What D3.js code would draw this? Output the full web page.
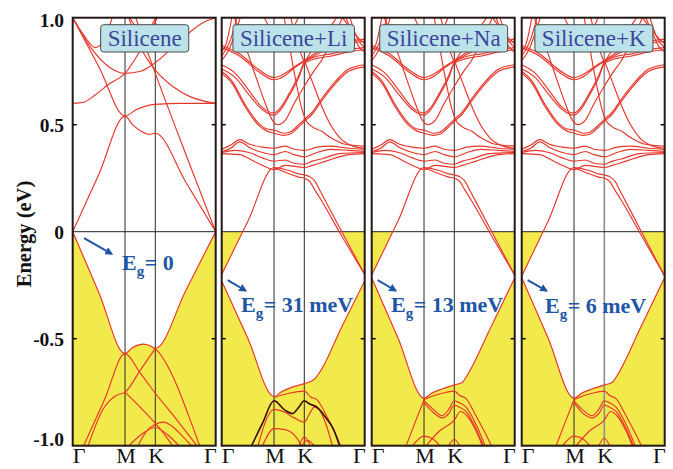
<!DOCTYPE html>
<html><head><meta charset="utf-8">
<script src="https://cdn.jsdelivr.net/npm/d3@7"></script>
<style>body{margin:0;background:#fff}svg{display:block}</style>
</head><body><svg id="chart" width="673" height="469"></svg>
<script>
// ---------- DATA ----------
const kPoints = [0, 0.577, 0.911, 1.577];
const kLabels = ["Γ", "M", "K", "Γ"];
const yTicks = [1.0, 0.5, 0, -0.5, -1.0];
const yTickLabels = ["1.0", "0.5", "0", "-0.5", "-1.0"];
const panelTitles = ["Silicene", "Silicene+Li", "Silicene+Na", "Silicene+K"];
const gapValues = ["0", "31 meV", "13 meV", "6 meV"];
const arrowStart = [[0.125, -0.03], [0.066, -0.226], [0.066, -0.226], [0.066, -0.226]];
const arrowEnd = [[0.43, -0.104], [0.265, -0.276], [0.265, -0.276], [0.275, -0.276]];
const gapLabelAt = [[0.545, -0.179], [0.213, -0.374], [0.213, -0.374], [0.257, -0.38]];

// Silicene (k, E) bands
const siliceneVBTop = [[0,0],[0.29,-0.286],[0.577,-0.57],[0.65,-0.545],[0.72,-0.53],[0.78,-0.525],[0.85,-0.532],[0.911,-0.545],[1.25,-0.272],[1.577,0]];
const siliceneCBBottom = [[0,0],[0.29,0.27],[0.577,0.54],[0.66,0.50],[0.75,0.47],[0.84,0.455],[0.911,0.46],[1.25,0.23],[1.577,0]];
const siliceneBands = [
  [[0.12,-1.0],[0.35,-0.785],[0.577,-0.57],[0.744,-0.66],[0.911,-0.755],[1.15,-0.88],[1.37,-1.0]],
  [[0.911,-0.545],[0.97,-0.575],[1.05,-0.63],[1.15,-0.72],[1.27,-0.85],[1.40,-1.0]],
  [[0.17,-1.0],[0.334,-0.83],[0.48,-0.765],[0.577,-0.75],[0.744,-0.648],[0.911,-0.545]],
  [[0.577,-0.75],[0.744,-0.82],[0.911,-0.895],[1.0,-0.94],[1.1,-1.0]],
  [[0.72,-1.0],[0.82,-0.93],[0.911,-0.9],[1.0,-0.89],[1.1,-0.91],[1.22,-0.96],[1.31,-1.0]],
  [[0.62,-1.0],[0.75,-0.95],[0.911,-0.915],[1.05,-0.95],[1.17,-1.0]],
  [[0.68,1.02],[0.80,0.87],[0.911,0.74],[1.24,0.37],[1.577,0]],
  [[0,1.0],[0.29,0.77],[0.577,0.54],[0.70,0.57],[0.911,0.595],[1.2,0.6],[1.577,0.6]],
  [[0,0.6],[0.12,0.605],[0.25,0.64],[0.4,0.69],[0.577,0.74],[0.75,0.85],[0.88,0.95],[0.95,1.02]],
  [[0.6,1.02],[0.75,0.86],[0.911,0.755],[1.1,0.68],[1.3,0.63],[1.45,0.61],[1.577,0.6]],
  [[0,1.0],[0.2,0.86],[0.4,0.77],[0.577,0.74],[0.75,0.75],[0.911,0.79],[1.2,0.9],[1.45,0.98],[1.577,1.0]],
  [[0.6,1.02],[0.72,0.95],[0.8,0.94],[0.88,0.97],[0.93,1.02]],
  [[0,1.0],[0.12,0.92],[0.25,0.86],[0.35,0.9],[0.45,1.02]]
];

// Bands above the gap, shared look for Li / Na / K
const alkaliUpperBands = [
  [[0,0.385],[0.1,0.405],[0.2,0.43],[0.3,0.41],[0.45,0.395],[0.577,0.39],[0.7,0.40],[0.8,0.385],[0.911,0.38],[1.05,0.395],[1.2,0.40],[1.4,0.39],[1.577,0.385]],
  [[0,0.375],[0.1,0.39],[0.2,0.42],[0.3,0.395],[0.45,0.37],[0.577,0.36],[0.7,0.375],[0.8,0.36],[0.911,0.35],[1.05,0.37],[1.2,0.385],[1.4,0.38],[1.577,0.375]],
  [[0,0.37],[0.15,0.38],[0.3,0.37],[0.45,0.345],[0.577,0.33],[0.7,0.335],[0.8,0.32],[0.911,0.315],[1.0,0.33],[1.1,0.34],[1.3,0.365],[1.577,0.37]],
  [[0,0.365],[0.2,0.36],[0.35,0.33],[0.5,0.30],[0.577,0.29],[0.7,0.31],[0.911,0.30],[1.0,0.31],[1.15,0.33],[1.4,0.36],[1.577,0.365]],
  [[0.911,0.80],[1.0,0.70],[1.1,0.59],[1.2,0.5],[1.3,0.44],[1.45,0.40],[1.577,0.39]],
  [[0,0.78],[0.15,0.74],[0.3,0.66],[0.45,0.58],[0.577,0.555],[0.65,0.58],[0.75,0.65],[0.85,0.73],[0.911,0.79],[1.05,0.82],[1.2,0.83],[1.4,0.85],[1.577,0.86]],
  [[0,0.76],[0.15,0.72],[0.3,0.64],[0.45,0.57],[0.577,0.545],[0.65,0.57],[0.75,0.64],[0.85,0.72],[0.911,0.785],[1.05,0.81],[1.2,0.82],[1.4,0.84],[1.577,0.85]],
  [[0,0.75],[0.12,0.70],[0.25,0.60],[0.4,0.51],[0.5,0.48],[0.577,0.475],[0.68,0.46],[0.75,0.465],[0.85,0.50],[0.911,0.525],[1.0,0.56],[1.1,0.62],[1.25,0.70],[1.4,0.76],[1.577,0.78]],
  [[0,0.74],[0.12,0.69],[0.25,0.59],[0.4,0.50],[0.5,0.47],[0.577,0.46],[0.68,0.45],[0.75,0.455],[0.85,0.49],[0.911,0.515],[1.0,0.55],[1.1,0.61],[1.25,0.69],[1.4,0.75],[1.577,0.77]],
  [[0,0.87],[0.2,0.83],[0.4,0.76],[0.577,0.72],[0.7,0.74],[0.8,0.77],[0.911,0.80],[1.1,0.85],[1.3,0.88],[1.577,0.9]],
  [[0,0.86],[0.2,0.82],[0.4,0.75],[0.577,0.71],[0.7,0.73],[0.8,0.765],[0.911,0.795],[1.1,0.84],[1.3,0.87],[1.577,0.89]],
  [[0.68,1.02],[0.75,0.86],[0.82,0.70],[0.88,0.58],[0.93,0.52],[1.0,0.49],[1.1,0.47],[1.2,0.44],[1.35,0.41],[1.577,0.40]],
  [[0.12,1.02],[0.25,0.88],[0.38,0.72],[0.48,0.6],[0.56,0.52],[0.62,0.50],[0.7,0.52],[0.8,0.60],[0.911,0.68],[1.0,0.74],[1.1,0.80],[1.2,0.88],[1.3,0.97],[1.35,1.02]],
  [[0.911,0.79],[1.0,0.85],[1.15,0.93],[1.3,1.02]],
  [[0.75,1.02],[0.85,0.86],[0.911,0.79]],
  [[0,0.80],[0.08,0.85],[0.15,0.93],[0.22,1.02]],
  [[0,0.82],[0.1,0.9],[0.18,1.02]],
  [[0,0.84],[0.05,0.88],[0.12,1.02]],
  [[1.35,1.02],[1.45,0.92],[1.52,0.86],[1.577,0.84]],
  [[1.4,1.02],[1.5,0.9],[1.577,0.86]],
  [[1.3,1.02],[1.42,0.95],[1.52,0.9],[1.577,0.88]],
  [[0.45,1.02],[0.577,0.93],[0.7,0.92],[0.8,0.96],[0.86,1.02]]
];

// Silicene+Li
const liCBBottom = [[0,-0.20],[0.29,0.05],[0.577,0.30],[0.66,0.295],[0.75,0.285],[0.85,0.27],[0.911,0.265],[0.98,0.255],[1.03,0.235],[1.08,0.195],[1.33,-0.005],[1.577,-0.20]];
const liVBTop = [[0,-0.23],[0.29,-0.5],[0.577,-0.77],[0.66,-0.748],[0.742,-0.732],[0.911,-0.71],[0.98,-0.70],[1.02,-0.69],[1.076,-0.66],[1.33,-0.44],[1.577,-0.23]];
const liBands = [
  [[0.577,0.30],[0.66,0.285],[0.75,0.27],[0.85,0.255],[0.911,0.25],[0.97,0.235],[1.02,0.2],[1.08,0.16],[1.33,-0.025],[1.577,-0.2]],
  [[0.577,-0.775],[0.742,-0.755],[0.911,-0.745],[0.98,-0.772],[1.05,-0.785],[1.15,-0.855],[1.25,-0.94],[1.31,-1.0]],
  [[0.4,-1.0],[0.5,-0.87],[0.577,-0.83],[0.70,-0.845],[0.8,-0.87],[0.911,-0.89],[0.97,-0.85],[1.02,-0.82],[1.07,-0.83],[1.15,-0.9],[1.22,-1.0]],
  [[0.45,-1.0],[0.577,-0.92],[0.70,-0.925],[0.82,-0.96],[0.88,-1.0]],
  [[0.85,-1.0],[0.911,-0.96],[0.98,-1.0]],
  [[0.88,-1.0],[0.95,-0.975],[1.02,-1.0]]
];
const liDarkBand = [[0.33,-1.0],[0.45,-0.895],[0.577,-0.79],[0.70,-0.835],[0.78,-0.85],[0.85,-0.82],[0.911,-0.79],[0.97,-0.805],[1.05,-0.82],[1.15,-0.87],[1.225,-0.917],[1.30,-1.0]];

// Silicene+Na
const naCBBottom = [[0,-0.203],[0.29,0.05],[0.577,0.30],[0.66,0.295],[0.75,0.285],[0.85,0.27],[0.911,0.265],[0.98,0.255],[1.03,0.235],[1.08,0.195],[1.33,-0.005],[1.577,-0.203]];
const naVBTop = [[0,-0.216],[0.29,-0.497],[0.577,-0.778],[0.66,-0.755],[0.776,-0.735],[0.911,-0.716],[0.997,-0.705],[1.04,-0.68],[1.31,-0.45],[1.577,-0.216]];
const naBands = [
  [[0.577,0.30],[0.66,0.285],[0.75,0.27],[0.85,0.255],[0.911,0.25],[0.97,0.235],[1.02,0.2],[1.08,0.16],[1.33,-0.025],[1.577,-0.203]],
  [[0.577,-0.785],[0.66,-0.77],[0.776,-0.755],[0.911,-0.745],[0.97,-0.765],[1.04,-0.78],[1.15,-0.86],[1.25,-0.94],[1.32,-1.0]],
  [[0.577,-0.79],[0.68,-0.83],[0.776,-0.86],[0.85,-0.83],[0.911,-0.79],[0.97,-0.80],[1.04,-0.82],[1.15,-0.9],[1.25,-1.0]],
  [[0.577,-0.80],[0.68,-0.845],[0.776,-0.87],[0.85,-0.85],[0.911,-0.81],[0.97,-0.82],[1.04,-0.84],[1.15,-0.92],[1.23,-1.0]],
  [[0.38,-1.0],[0.48,-0.89],[0.577,-0.785]],
  [[0.45,-1.0],[0.577,-0.955],[0.68,-0.97],[0.75,-1.0]],
  [[0.6,-1.0],[0.75,-0.93],[0.911,-0.88],[0.98,-0.84],[1.05,-0.86],[1.15,-0.93],[1.22,-1.0]],
  [[0.85,-1.0],[0.911,-0.97],[0.97,-1.0]]
];

// Silicene+K
const kCBBottom = [[0,-0.208],[0.29,0.048],[0.577,0.30],[0.66,0.295],[0.75,0.285],[0.85,0.27],[0.911,0.265],[0.98,0.255],[1.03,0.235],[1.08,0.195],[1.33,-0.008],[1.577,-0.208]];
const kVBTop = [[0,-0.214],[0.29,-0.496],[0.577,-0.778],[0.66,-0.755],[0.776,-0.735],[0.911,-0.716],[0.997,-0.705],[1.04,-0.68],[1.31,-0.449],[1.577,-0.214]];
const kBands = [
  [[0.577,0.30],[0.66,0.285],[0.75,0.27],[0.85,0.255],[0.911,0.25],[0.97,0.235],[1.02,0.2],[1.08,0.16],[1.33,-0.025],[1.577,-0.208]],
  [[0.577,-0.785],[0.66,-0.77],[0.776,-0.755],[0.911,-0.745],[0.97,-0.765],[1.04,-0.78],[1.15,-0.86],[1.25,-0.94],[1.32,-1.0]],
  [[0.577,-0.79],[0.68,-0.835],[0.776,-0.86],[0.85,-0.83],[0.911,-0.79],[0.97,-0.80],[1.04,-0.82],[1.15,-0.9],[1.25,-1.0]],
  [[0.577,-0.80],[0.68,-0.85],[0.776,-0.87],[0.85,-0.85],[0.911,-0.81],[0.97,-0.82],[1.04,-0.84],[1.15,-0.92],[1.23,-1.0]],
  [[0.38,-1.0],[0.48,-0.89],[0.577,-0.785]],
  [[0.45,-1.0],[0.577,-0.955],[0.68,-0.97],[0.75,-1.0]],
  [[0.6,-1.0],[0.75,-0.93],[0.911,-0.88],[0.98,-0.84],[1.05,-0.86],[1.15,-0.93],[1.22,-1.0]],
  [[0.85,-1.0],[0.911,-0.965],[0.97,-1.0]]
];

// ---------- DRAWING ----------
const panels = [
  {bands: siliceneBands, extra: [], vb: siliceneVBTop, cb: siliceneCBBottom, dark: null},
  {bands: liBands, extra: alkaliUpperBands, vb: liVBTop, cb: liCBBottom, dark: liDarkBand},
  {bands: naBands, extra: alkaliUpperBands, vb: naVBTop, cb: naCBBottom, dark: null},
  {bands: kBands, extra: alkaliUpperBands, vb: kVBTop, cb: kCBBottom, dark: null}
];
const panelLeft = [72.7, 221.7, 371.7, 521.7];
const panelW = 143;
const plotTop = 17.7, plotBottom = 445.7;
const serif = "'Liberation Serif','Times New Roman',Times,serif";
const RED = "#e8352a", YELLOW = "#f2e94c", BLUE = "#1e56a6";

const svg = d3.select("#chart");
const defs = svg.append("defs");
defs.append("marker").attr("id", "ah").attr("viewBox", "0 0 10 10")
  .attr("refX", 8).attr("refY", 5).attr("markerWidth", 4).attr("markerHeight", 4)
  .attr("orient", "auto").attr("markerUnits", "strokeWidth")
  .append("path").attr("d", "M0,0 L10,5 L0,10 z").attr("fill", BLUE);

const y = d3.scaleLinear().domain([-1, 1]).range([plotBottom, plotTop]);

panels.forEach((p, i) => {
  const x0 = panelLeft[i], x1 = x0 + panelW;
  const x = d3.scaleLinear().domain([0, 1.577]).range([x0, x1]);
  defs.append("clipPath").attr("id", "cp" + i).append("rect")
    .attr("x", x0).attr("y", plotTop).attr("width", panelW).attr("height", plotBottom - plotTop);
  defs.append("clipPath").attr("id", "cn" + i).append("rect")
    .attr("x", x0).attr("y", y(0)).attr("width", panelW).attr("height", plotBottom - y(0));
  const g = svg.append("g").attr("clip-path", `url(#cp${i})`);
  const gn = g.append("g").attr("clip-path", `url(#cn${i})`);
  const below = d3.area().x(d => x(d[0])).y0(y(-1.2)).y1(d => y(d[1])).curve(d3.curveMonotoneX);
  const above = d3.area().x(d => x(d[0])).y0(y(1.2)).y1(d => y(d[1])).curve(d3.curveMonotoneX);
  gn.append("path").datum(p.vb).attr("d", below).attr("fill", YELLOW);
  gn.append("path").datum(p.cb).attr("d", above).attr("fill", YELLOW);

  [kPoints[1], kPoints[2]].forEach((kv, j) => {
    g.append("line").attr("x1", x(kv)).attr("x2", x(kv)).attr("y1", plotTop).attr("y2", plotBottom)
      .attr("stroke", (i === 3 && j === 1) ? "#8f8f8f" : "#2b2b2b")
      .attr("stroke-width", (i === 3 && j === 1) ? 1.6 : 1);
  });
  g.append("line").attr("x1", x0).attr("x2", x1).attr("y1", y(0)).attr("y2", y(0))
    .attr("stroke", "#222").attr("stroke-width", 1);

  const line = d3.line().x(d => x(d[0])).y(d => y(d[1])).curve(d3.curveMonotoneX);
  const all = [p.vb, p.cb].concat(p.bands, p.extra);
  g.selectAll("path.band").data(all).join("path").attr("class", "band")
    .attr("d", line).attr("fill", "none").attr("stroke", RED).attr("stroke-width", 1.15);
  if (p.dark) {
    g.append("path").datum(p.dark).attr("d", line).attr("fill", "none")
      .attr("stroke", "#3a0c0c").attr("stroke-width", 1.6);
  }

  [0.5, -0.5].forEach(v => {
    svg.append("line").attr("x1", x0).attr("x2", x0 + 4).attr("y1", y(v)).attr("y2", y(v)).attr("stroke", "#000").attr("stroke-width", 1.5);
    svg.append("line").attr("x1", x1 - 4).attr("x2", x1).attr("y1", y(v)).attr("y2", y(v)).attr("stroke", "#000").attr("stroke-width", 1.5);
  });

  svg.append("rect").attr("x", x0).attr("y", plotTop).attr("width", panelW).attr("height", plotBottom - plotTop)
    .attr("fill", "none").attr("stroke", "#231815").attr("stroke-width", 2);

  const cx = (x0 + x1) / 2 + 0.5;
  const tg = svg.append("g");
  const tt = tg.append("text").attr("x", cx).attr("y", 46).attr("text-anchor", "middle")
    .attr("font-family", serif).attr("font-size", 23).attr("fill", "#3d469c").text(panelTitles[i]);
  const bb = tt.node().getBBox();
  tg.insert("rect", "text").attr("x", bb.x - 7).attr("y", 24.7).attr("width", bb.width + 14).attr("height", 27.3)
    .attr("rx", 3).attr("fill", "#bce3e9").attr("stroke", "#4a4a4a").attr("stroke-width", 1);

  svg.append("line").attr("x1", x(arrowStart[i][0])).attr("y1", y(arrowStart[i][1]))
    .attr("x2", x(arrowEnd[i][0])).attr("y2", y(arrowEnd[i][1]))
    .attr("stroke", BLUE).attr("stroke-width", 2).attr("marker-end", "url(#ah)");

  const lt = svg.append("text").attr("x", x(gapLabelAt[i][0])).attr("y", y(gapLabelAt[i][1]))
    .attr("font-family", serif).attr("font-weight", "bold").attr("font-size", 22).attr("fill", BLUE);
  lt.append("tspan").text("E");
  lt.append("tspan").attr("font-size", 15).attr("dy", 6).text("g");
  lt.append("tspan").attr("dy", -6).attr("dx", 0.5).text("= " + gapValues[i]);

  kPoints.forEach((kv, j) => {
    const anchor = j === 0 ? "start" : (j === 3 ? "end" : "middle");
    const xx = j === 0 ? x0 : (j === 3 ? x1 + 1 : x(kv) + 1);
    svg.append("text").attr("x", xx).attr("y", 463).attr("text-anchor", anchor)
      .attr("font-family", serif).attr("font-size", 22).attr("fill", "#111").text(kLabels[j]);
  });
});

yTicks.forEach((v, j) => {
  const yy = Math.min(Math.max(y(v), 20), 439.5);
  svg.append("text").attr("x", 64).attr("y", yy).attr("dy", "0.35em").attr("text-anchor", "end")
    .attr("font-family", serif).attr("font-weight", "bold").attr("font-size", 19.5).attr("fill", "#111")
    .text(yTickLabels[j]);
});
svg.append("text").attr("transform", "translate(31,234) rotate(-90)").attr("text-anchor", "middle")
  .attr("font-family", serif).attr("font-weight", "bold").attr("font-size", 20.5).attr("fill", "#111")
  .text("Energy (eV)");
</script></body></html>
